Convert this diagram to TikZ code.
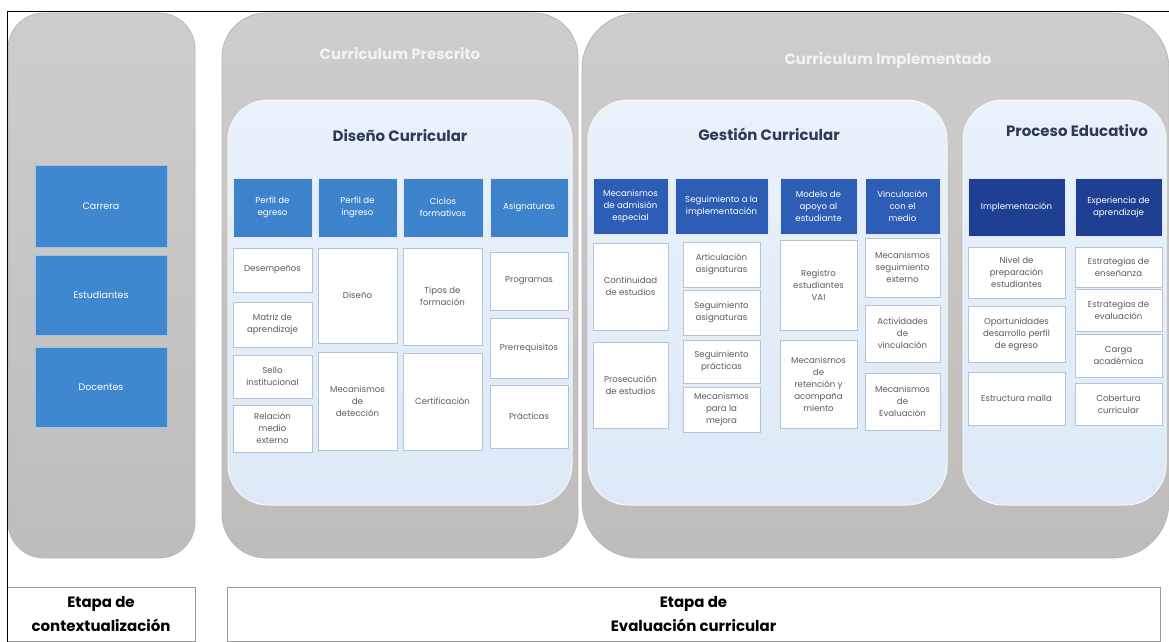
\documentclass[tikz,border=0pt]{standalone}
\usepackage{fontspec}
\setmainfont{Poppins}
\definecolor{gfill}{HTML}{CFCCCC}
\definecolor{gline}{HTML}{B9B6B6}
\definecolor{ifill}{HTML}{DDE9F6}
\definecolor{itop}{HTML}{E9F2FB}
\definecolor{cline}{HTML}{B3C4DA}
\definecolor{ctext}{HTML}{5C5C5C}
\definecolor{blueA}{HTML}{3F87CF}
\definecolor{blueB}{HTML}{3D84CC}
\definecolor{blueC}{HTML}{2D5DB4}
\definecolor{blueD}{HTML}{1F3F92}
\definecolor{ttl}{HTML}{2F3B56}
\newcommand\cellfont{\fontsize{8.6}{12}\selectfont}
% \bx{style}{name}{x1}{y1}{x2}{y2}{text}
\newcommand\bx[7]{\node[#1, minimum width={(#5-#3)*1pt}, minimum height={(#6-#4)*1pt}] (#2) at ({(#3+#5)/2},{(#4+#6)/2}) {#7};}
\begin{document}
\begin{tikzpicture}[x=1pt,y=-1pt,
  gpanel/.style={top color=gfill, bottom color=gfill!92!black, draw=gline, line width=0.8pt},
  ipanel/.style={top color=itop, bottom color=ifill, draw=white!70!ifill, line width=1pt},
  cell/.style={draw=cline, fill=white, line width=0.8pt, align=center, text=ctext, font=\cellfont, inner sep=1pt},
  hdr/.style={draw=white!60!cline, line width=0.6pt, align=center, text=white, font=\cellfont, inner sep=1pt},
  sidebox/.style={fill=blueA, draw=white!50!blueA, line width=0.6pt, align=center, text=white, font=\fontsize{9.5}{12}\selectfont},
  gtitle/.style={text=white!90!gray, font=\bfseries\fontsize{15}{18}\selectfont},
  ititle/.style={text=ttl, font=\bfseries\fontsize{15}{18}\selectfont},
  stage/.style={draw=gray!80, line width=0.8pt, align=center, font=\bfseries\fontsize{15}{24}\selectfont}
]
\useasboundingbox (0,0) rectangle (1169,642);
\fill[white] (0,0) rectangle (1169,642);

% gray panels
\draw[gpanel, rounded corners=36pt] (8,13) rectangle (195,558);
\draw[gpanel, rounded corners=44pt] (222,13) rectangle (578,558);
\draw[gpanel, rounded corners=56pt] (582,13) rectangle (1169,558);

\node[gtitle] (prescrito) at (400,54) {Curriculum Prescrito};
\node[gtitle] (implementado) at (888,60) {Curriculum Implementado};

% inner panels
\draw[ipanel, rounded corners=40pt] (228,100) rectangle (572,505);
\draw[ipanel, rounded corners=40pt] (588,100) rectangle (947,505);
\draw[ipanel, rounded corners=40pt] (963,100) rectangle (1166,505);

\node[ititle] (diseno) at (400,136) {Diseño Curricular};
\node[ititle] (gestion) at (769,134) {Gestión Curricular};
\node[ititle] (proceso) at (1077,131) {Proceso Educativo};

% context column
\bx{sidebox}{carrera}{35}{165}{167}{247}{Carrera}
\bx{sidebox}{estudiantes}{35}{255}{167}{335}{Estudiantes}
\bx{sidebox}{docentes}{35}{347}{167}{427}{Docentes}

% Diseño curricular
\bx{hdr, fill=blueB}{dh1}{233}{178}{312}{237}{Perfil de\\egreso}
\bx{hdr, fill=blueB}{dh2}{318}{178}{397}{237}{Perfil de\\ingreso}
\bx{hdr, fill=blueB}{dh3}{403}{178}{483}{237}{Ciclos\\formativos}
\bx{hdr, fill=blueB}{dh4}{490}{178}{568}{237}{Asignaturas}

\bx{cell}{d11}{233}{248}{312}{292}{Desempeños}
\bx{cell}{d12}{233}{302}{312}{347}{Matriz de\\aprendizaje}
\bx{cell}{d13}{233}{355}{312}{398}{Sello\\institucional}
\bx{cell}{d14}{233}{405}{312}{452}{Relación\\medio\\externo}
\bx{cell}{d21}{318}{248}{397}{343}{Diseño}
\bx{cell}{d22}{318}{352}{397}{450}{Mecanismos\\de\\detección}
\bx{cell}{d31}{403}{248}{482}{345}{Tipos de\\formación}
\bx{cell}{d32}{403}{353}{482}{450}{Certificación}
\bx{cell}{d41}{490}{252}{568}{310}{Programas}
\bx{cell}{d42}{490}{318}{568}{378}{Prerrequisitos}
\bx{cell}{d43}{490}{385}{568}{448}{Prácticas}

% Gestión curricular
\bx{hdr, fill=blueC}{gh1}{593}{178}{668}{234}{Mecanismos\\de admisión\\especial}
\bx{hdr, fill=blueC}{gh2}{675}{178}{768}{234}{Seguimiento a la\\implementación}
\bx{hdr, fill=blueC}{gh3}{780}{178}{857}{234}{Modelo de\\apoyo al\\estudiante}
\bx{hdr, fill=blueC}{gh4}{865}{178}{940}{234}{Vinculación\\con el\\medio}

\bx{cell}{g11}{593}{243}{668}{330}{Continuidad\\de estudios}
\bx{cell}{g12}{593}{342}{668}{428}{Prosecución\\de estudios}
\bx{cell}{g21}{683}{242}{760}{287}{Articulación\\asignaturas}
\bx{cell}{g22}{683}{290}{760}{335}{Seguimiento\\asignaturas}
\bx{cell}{g23}{683}{340}{760}{383}{Seguimiento\\prácticas}
\bx{cell}{g24}{683}{387}{760}{432}{Mecanismos\\para la\\mejora}
\bx{cell}{g31}{780}{240}{857}{330}{Registro\\estudiantes\\VAI}
\bx{cell}{g32}{780}{340}{857}{428}{Mecanismos\\de\\retención y\\acompaña\\miento}
\bx{cell}{g41}{865}{238}{940}{297}{Mecanismos\\seguimiento\\externo}
\bx{cell}{g42}{865}{305}{940}{362}{Actividades\\de\\vinculación}
\bx{cell}{g43}{865}{373}{940}{430}{Mecanismos\\de\\Evaluación}

% Proceso educativo
\bx{hdr, fill=blueD}{ph1}{968}{178}{1065}{236}{Implementación}
\bx{hdr, fill=blueD}{ph2}{1075}{178}{1162}{236}{Experiencia de\\aprendizaje}

\bx{cell}{p11}{968}{247}{1065}{298}{Nivel de\\preparación\\estudiantes}
\bx{cell}{p12}{968}{306}{1065}{362}{Oportunidades\\desarrollo perfil\\de egreso}
\bx{cell}{p13}{968}{372}{1065}{425}{Estructura malla}
\bx{cell}{p21}{1075}{247}{1162}{287}{Estrategias de\\enseñanza}
\bx{cell}{p22}{1075}{289}{1162}{331}{Estrategias de\\evaluación}
\bx{cell}{p23}{1075}{334}{1162}{377}{Carga\\académica}
\bx{cell}{p24}{1075}{383}{1162}{425}{Cobertura\\curricular}

% stage labels
\bx{stage}{etapa1}{7}{587}{195}{641}{Etapa de\\contextualización}
\bx{stage}{etapa2}{227}{587}{1160}{641}{Etapa de\\Evaluación curricular}

% frame
\draw[line width=1pt] (7,642) -- (7,12) -- (1169,12);
\end{tikzpicture}
\end{document}
